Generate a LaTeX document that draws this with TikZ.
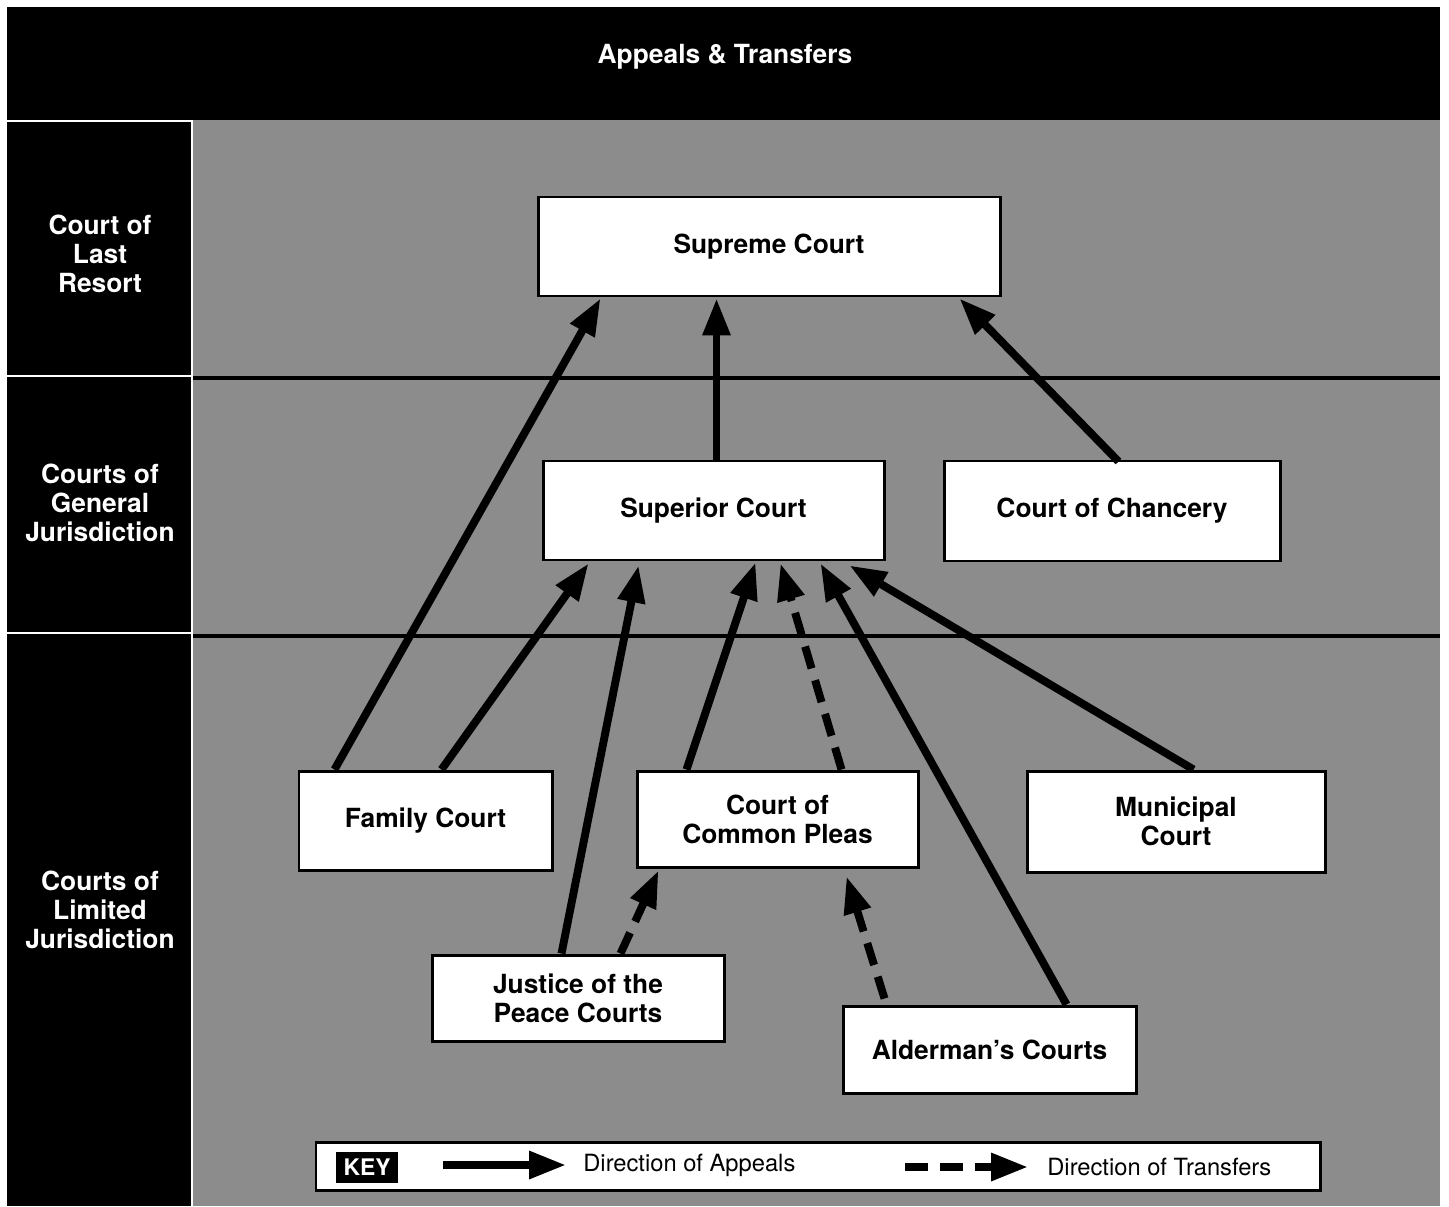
\documentclass[tikz,border=0pt]{standalone}
\usepackage{fontspec}
\setmainfont{TeX Gyre Heros}
\usetikzlibrary{arrows.meta,calc}
\newlength{\pxu}
\setlength{\pxu}{0.02cm}
\tikzstyle{court}=[rectangle,fill=white,draw=black,line width=1.7pt,inner sep=0pt,align=center,anchor=center,font=\fontsize{15}{16.5}\selectfont\bfseries]
\tikzstyle{tier}=[align=center,text=white,inner sep=0pt,font=\fontsize{15}{16.5}\selectfont\bfseries]
\tikzstyle{keytext}=[anchor=west,inner sep=0pt,font=\fontsize{13.5}{15}\selectfont]
\tikzstyle{appeal}=[line width=4.5pt,-{Triangle[length=21pt,width=15pt]}]
\tikzstyle{transfer}=[appeal,dash pattern=on 13pt off 7pt]

\begin{document}
\begin{tikzpicture}[x=0.02cm,y=-0.02cm]
	\useasboundingbox (0,0) rectangle (1449,1206);
	\fill[white] (0,0) rectangle (1449,1206);
	\fill[black] (7,7) rectangle (1440,1206);
	\fill[black!45] (193,120) rectangle (1440,1206);
	\draw[white,line width=1.2pt] (7,121) -- (192,121) -- (192,1206);
	\draw[white,line width=1.2pt] (7,376) -- (192,376);
	\draw[white,line width=1.2pt] (7,633) -- (192,633);
	\draw[line width=2.2pt] (193,378) -- (1440,378);
	\draw[line width=2.2pt] (193,636) -- (1440,636);

	\node[tier] (title) at (725,57) {Appeals \& Transfers};
	\node[tier] (lastres) at (100,254) {Court of\\Last\\Resort};
	\node[tier] (general) at (100,503) {Courts of\\General\\Jurisdiction};
	\node[tier] (limited) at (100,910) {Courts of\\Limited\\Jurisdiction};

	% courts
	\node[court, minimum width=462*\pxu, minimum height=99*\pxu] (supreme) at (769,246.5) {Supreme Court};
	\node[court, minimum width=341*\pxu, minimum height=99*\pxu] (superior) at (713.5,510.5) {Superior Court};
	\node[court, minimum width=336*\pxu, minimum height=100*\pxu] (chancery) at (1112,511) {Court of Chancery};
	\node[court, minimum width=253*\pxu, minimum height=99*\pxu] (family) at (425.5,820.5) {Family Court};
	\node[court, minimum width=281*\pxu, minimum height=96*\pxu] (pleas) at (777.5,819) {Court of\\Common Pleas};
	\node[court, minimum width=298*\pxu, minimum height=101*\pxu] (municipal) at (1176,821.5) {Municipal\\Court};
	\node[court, minimum width=292*\pxu, minimum height=86*\pxu] (peace) at (578,998) {Justice of the\\Peace Courts};
	\node[court, minimum width=293*\pxu, minimum height=87*\pxu] (alderman) at (989.5,1049.5) {Alderman's Courts};

	% appeals
	\draw[appeal] ($(family.north west)+(37,0)$) -- ($(supreme.south west)+(64,1)$);
	\draw[appeal] ($(superior.north west)+(175,0)$) -- ($(supreme.south west)+(180,1)$);
	\draw[appeal] ($(chancery.north west)+(176,2)$) -- ($(supreme.south east)+(-42,1)$);
	\draw[appeal] ($(family.north west)+(144,0)$) -- ($(superior.south west)+(47,2)$);
	\draw[appeal] ($(peace.north west)+(131,0)$) -- ($(superior.south west)+(97,4)$);
	\draw[appeal] ($(pleas.north west)+(51,0)$) -- ($(superior.south west)+(214,1)$);
	\draw[appeal] ($(alderman.north west)+(225,0)$) -- ($(superior.south west)+(279,2)$);
	\draw[appeal] ($(municipal.north west)+(168,0)$) -- ($(superior.south east)+(-36,4)$);
	%transfers
	\draw[transfer] ($(pleas.north west)+(206,0)$) -- ($(superior.south west)+(239,2)$);
	\draw[transfer] ($(peace.north west)+(190,0)$) -- ($(pleas.south west)+(23,2)$);
	\draw[transfer] ($(alderman.north west)+(43,-6)$) -- ($(pleas.south west)+(211,8)$);

	% key
	\node[court, minimum width=1004*\pxu, minimum height=48*\pxu] (key) at (818,1166) {};
	\node[fill=black, text=white, inner sep=0pt, minimum width=62*\pxu, minimum height=31*\pxu, font=\fontsize{13}{15}\selectfont\bfseries] (keylbl) at (367,1167) {KEY};
	\coordinate (ka) at (443,1165);
	\coordinate (kb) at (566,1165);
	\draw[appeal] (ka) -- (kb);
	\node[keytext] (kapp) at (583,1165) {Direction of Appeals};
	\coordinate (kc) at (905,1167);
	\coordinate (kd) at (1028,1167);
	\draw[transfer] (kc) -- (kd);
	\node[keytext] (ktr) at (1047,1167) {Direction of Transfers};

\end{tikzpicture}
\end{document}
